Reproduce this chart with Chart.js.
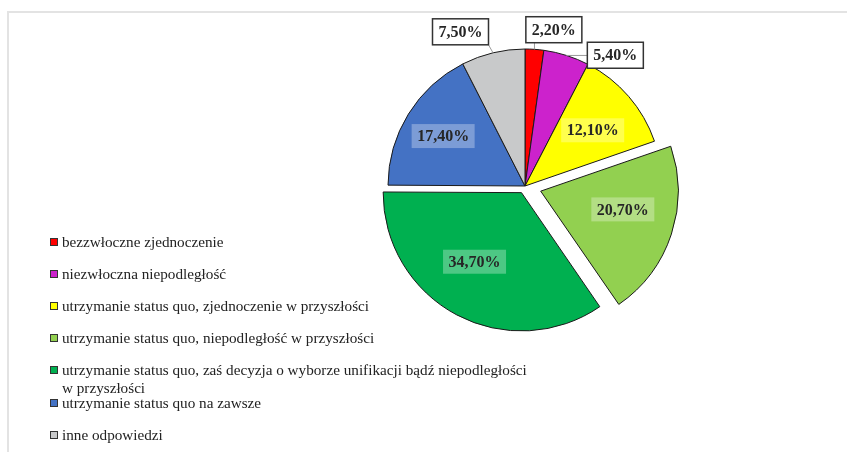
<!DOCTYPE html>
<html>
<head>
<meta charset="utf-8">
<script src="https://cdn.jsdelivr.net/npm/chart.js@4.4.1/dist/chart.umd.min.js"></script>
<style>
  html, body { margin: 0; padding: 0; background: #fff; }
  #wrap { position: relative; width: 847px; height: 452px; overflow: hidden; }
  #frame { position: absolute; left: 7px; top: 11px; right: 0; bottom: 0;
           border-top: 2px solid #e3e3e3; border-left: 2px solid #e3e3e3; }
  canvas { position: absolute; left: 0; top: 0; }
  #legend { position: absolute; left: 50px; top: 0; font-family: "Liberation Serif", "Times New Roman", serif;
            font-size: 15.2px; color: #222; }
  .item { position: absolute; left: 0; white-space: nowrap; }
  .sw { position: absolute; left: 0; width: 6px; height: 6px; border: 1px solid #333; }
  .txt { position: absolute; left: 12px; width: 475px; white-space: normal; line-height: 18px; }
</style>
</head>
<body>
<div id="wrap">
  <div id="frame"></div>
  <canvas id="c" width="847" height="452"></canvas>
  <div id="legend"></div>
</div>
<script>
// ---- data ----
const categories = [
  "bezzwłoczne zjednoczenie",
  "niezwłoczna niepodległość",
  "utrzymanie status quo, zjednoczenie w przyszłości",
  "utrzymanie status quo, niepodległość w przyszłości",
  "utrzymanie status quo, zaś decyzja o wyborze unifikacji bądź niepodległości w przyszłości",
  "utrzymanie status quo na zawsze",
  "inne odpowiedzi"
];
const values = [2.2, 5.4, 12.1, 20.7, 34.7, 17.4, 7.5];

// ---- styling ----
const colors = ["#FF0000", "#CC22CC", "#FFFF00", "#92D050", "#00B050", "#4472C4", "#C8C9CA"];
const explode = [0, 0, 0, 66, 30, 0, 0];
// label placement: outside (boxed, with leader) or inside; r = fraction of radius, shift = degrees from mid-angle
const labelPlacement = [
  { out: true,  r: 1.16, shift: 6.5 },
  { out: true,  r: 1.16, shift: 17 },
  { out: false, r: 0.64, shift: 1.4 },
  { out: false, r: 0.61, shift: -5.7 },
  { out: false, r: 0.60, shift: 6.4 },
  { out: false, r: 0.70, shift: -0.3 },
  { out: true,  r: 1.22, shift: -9.2 }
];
const legendRowY = [242, 274, 306, 338, 370, 403, 435];

const fmt = v => v.toFixed(2).replace('.', ',') + '%';

// ---- legend (HTML) ----
const lg = document.getElementById('legend');
categories.forEach((c, i) => {
  const it = document.createElement('div');
  it.className = 'item';
  it.style.top = (legendRowY[i] - 9) + 'px';
  const sw = document.createElement('div');
  sw.className = 'sw';
  sw.style.background = colors[i];
  sw.style.top = '5px';
  const tx = document.createElement('div');
  tx.className = 'txt';
  tx.textContent = c;
  it.appendChild(sw); it.appendChild(tx);
  lg.appendChild(it);
});

// ---- slice labels plugin ----
const sliceLabels = {
  id: 'sliceLabels',
  afterDatasetsDraw(chart) {
    const ctx = chart.ctx;
    const meta = chart.getDatasetMeta(0);
    ctx.save();
    ctx.font = 'bold 16px "Liberation Serif", "Times New Roman", serif';
    ctx.textAlign = 'center';
    ctx.textBaseline = 'middle';
    meta.data.forEach((arc, i) => {
      const p = arc.getProps(['x', 'y', 'startAngle', 'endAngle', 'outerRadius', 'circumference'], true);
      const off = (arc.options.offset || 0) / 4;
      const fix = 1 - Math.sin(Math.min(Math.PI, p.circumference || 0));
      const mid = (p.startAngle + p.endAngle) / 2;
      const t = off * (1 + fix);
      const cx = p.x + Math.cos(mid) * t, cy = p.y + Math.sin(mid) * t;
      const pl = labelPlacement[i];
      const a = mid + pl.shift * Math.PI / 180;
      const lx = cx + Math.cos(a) * pl.r * p.outerRadius;
      const ly = cy + Math.sin(a) * pl.r * p.outerRadius;
      const text = fmt(values[i]);
      const w = ctx.measureText(text).width;
      if (pl.out) {
        const bw = w + 12, bh = 26;
        const x0 = lx - bw / 2, y0 = ly - bh / 2;
        const ex = cx + Math.cos(mid) * p.outerRadius, ey = cy + Math.sin(mid) * p.outerRadius;
        const nx = Math.max(x0, Math.min(ex, x0 + bw));
        const ny = Math.max(y0, Math.min(ey, y0 + bh));
        ctx.strokeStyle = '#9a9a9a';
        ctx.lineWidth = 1;
        ctx.beginPath(); ctx.moveTo(ex, ey); ctx.lineTo(nx, ny); ctx.stroke();
        ctx.fillStyle = '#ffffff';
        ctx.fillRect(x0, y0, bw, bh);
        ctx.strokeStyle = '#333333';
        ctx.lineWidth = 1.5;
        ctx.strokeRect(x0, y0, bw, bh);
      } else {
        const bw = w + 11, bh = 24;
        ctx.fillStyle = 'rgba(255,255,255,0.3)';
        ctx.fillRect(lx - bw / 2, ly - bh / 2, bw, bh);
      }
      ctx.fillStyle = '#262626';
      ctx.fillText(text, lx, ly + 1);
    });
    ctx.restore();
  }
};

new Chart(document.getElementById('c'), {
  type: 'pie',
  data: {
    labels: categories,
    datasets: [{
      data: values,
      backgroundColor: colors,
      borderColor: '#1a1a1a',
      borderWidth: 1,
      offset: explode,
      hoverOffset: 0
    }]
  },
  options: {
    responsive: false,
    animation: false,
    devicePixelRatio: 1,
    radius: 137,
    layout: { padding: { left: 250, right: 47, top: 30, bottom: 110 } },
    plugins: { legend: { display: false }, tooltip: { enabled: false } },
    events: []
  },
  plugins: [sliceLabels]
});
</script>
</body>
</html>
